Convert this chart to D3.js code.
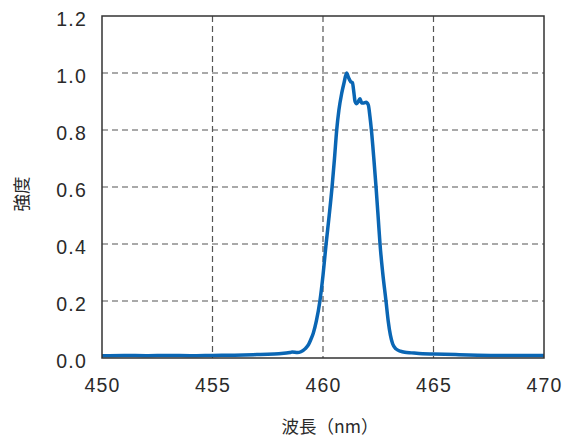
<!DOCTYPE html>
<html><head><meta charset="utf-8">
<script src="https://cdn.jsdelivr.net/npm/d3@7/dist/d3.min.js"></script>
<style>body{margin:0;background:#fff}svg{display:block}</style>
</head><body>
<script>
const wavelength = [450,451,452,453,454,455,456,457,457.5,458,458.5,458.6,458.85,459.0,459.2,459.35,459.45,459.56,459.7,459.86,460.0,460.14,460.28,460.41,460.52,460.62,460.72,460.85,460.95,461.07,461.15,461.25,461.33,461.4,461.45,461.52,461.6,461.67,461.75,461.85,461.95,462.05,462.12,462.19,462.3,462.4,462.5,462.58,462.7,462.85,462.95,463.05,463.15,463.3,463.5,463.7,464.0,464.5,465,466,467,468,469,470];
const intensity = [0.008,0.009,0.008,0.009,0.008,0.009,0.010,0.012,0.013,0.015,0.019,0.021,0.019,0.022,0.033,0.048,0.065,0.087,0.13,0.20,0.29,0.40,0.50,0.60,0.70,0.80,0.87,0.93,0.965,1.0,0.985,0.97,0.966,0.93,0.9,0.892,0.90,0.91,0.895,0.895,0.897,0.888,0.85,0.80,0.70,0.60,0.49,0.40,0.30,0.20,0.13,0.08,0.05,0.032,0.024,0.02,0.018,0.015,0.014,0.012,0.010,0.009,0.009,0.009];
const xTicks = [450,455,460,465,470];
const yTicks = [0,0.2,0.4,0.6,0.8,1.0,1.2];

const W=572,H=439, L=102,R=544,T=16,B=358;
const svg=d3.select("body").append("svg").attr("width",W).attr("height",H);
const x=d3.scaleLinear().domain([450,470]).range([L,R]);
const y=d3.scaleLinear().domain([0,1.2]).range([B,T]);
const font='"Liberation Sans", Arial, sans-serif';

// grid
svg.append("g").selectAll("line").data(yTicks.slice(1,-1)).join("line")
  .attr("x1",L).attr("x2",R).attr("y1",d=>y(d)).attr("y2",d=>y(d))
  .attr("stroke","#555").attr("stroke-width",1.2).attr("stroke-dasharray","6,4");
svg.append("g").selectAll("line").data(xTicks.slice(1,-1)).join("line")
  .attr("y1",T).attr("y2",B).attr("x1",d=>x(d)).attr("x2",d=>x(d))
  .attr("stroke","#555").attr("stroke-width",1.2).attr("stroke-dasharray","6,4");

// axes (labels only)
const xa=svg.append("g").attr("transform",`translate(0,${B})`).call(d3.axisBottom(x).tickValues(xTicks).tickSize(0).tickPadding(20).tickFormat(d3.format("d")));
const ya=svg.append("g").attr("transform",`translate(${L},0)`).call(d3.axisLeft(y).tickValues(yTicks).tickSize(0).tickPadding(15).tickFormat(d3.format(".1f")));
[xa,ya].forEach(a=>{a.select(".domain").remove();a.selectAll("text").attr("font-family",font).attr("font-size",19.5).attr("letter-spacing","1.2px").attr("fill","#2a2a2a");});
ya.selectAll("text").attr("dy","0.5em");

// line
const line=d3.line().x((d,i)=>x(wavelength[i])).y(d=>y(d)).curve(d3.curveMonotoneX);
svg.append("path").datum(intensity).attr("d",line).attr("fill","none")
  .attr("stroke","#0a66b4").attr("stroke-width",3.5).attr("stroke-linejoin","round");

// frame
svg.append("rect").attr("x",L).attr("y",T).attr("width",R-L).attr("height",B-T)
  .attr("fill","none").attr("stroke","#333").attr("stroke-width",1.5);

// titles
svg.append("text").attr("x",330).attr("y",433).attr("text-anchor","middle")
  .attr("font-family",'"Noto Sans CJK JP", sans-serif').attr("font-size",17.5).attr("fill","#2a2a2a").text("波長（nm）");
svg.append("text").attr("transform","translate(28,194) rotate(-90)").attr("text-anchor","middle")
  .attr("font-family",'"Noto Sans CJK JP", sans-serif').attr("font-size",17.5).attr("fill","#2a2a2a").text("強度");
</script>
</body></html>
